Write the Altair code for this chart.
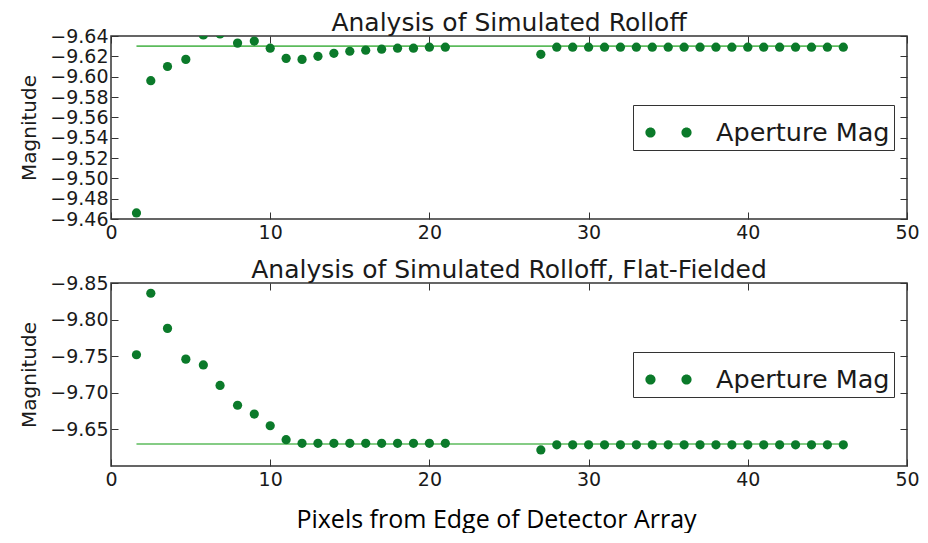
import altair as alt
import pandas as pd

# ---- data ----
x_pix = [1.6, 2.5, 3.55, 4.7, 5.8, 6.85, 7.95, 9.0, 10, 11, 12, 13, 14, 15, 16, 17, 18, 19, 20, 21,
         27, 28, 29, 30, 31, 32, 33, 34, 35, 36, 37, 38, 39, 40, 41, 42, 43, 44, 45, 46]

mag_raw = [-9.466, -9.596, -9.610, -9.617, -9.641, -9.642, -9.633, -9.635, -9.628, -9.618,
           -9.617, -9.620, -9.623, -9.625, -9.626, -9.627, -9.628, -9.628, -9.629, -9.629,
           -9.622, -9.629, -9.629, -9.629, -9.629, -9.629, -9.629, -9.629, -9.629, -9.629,
           -9.629, -9.629, -9.629, -9.629, -9.629, -9.629, -9.629, -9.629, -9.629, -9.629]

mag_flat = [-9.752, -9.836, -9.788, -9.746, -9.738, -9.710, -9.683, -9.671, -9.655, -9.636,
            -9.631, -9.631, -9.631, -9.631, -9.631, -9.631, -9.631, -9.631, -9.631, -9.631,
            -9.622, -9.629, -9.629, -9.629, -9.629, -9.629, -9.629, -9.629, -9.629, -9.629,
            -9.629, -9.629, -9.629, -9.629, -9.629, -9.629, -9.629, -9.629, -9.629, -9.629]

true_mag = -9.63
series_name = "Aperture Mag"

x_ticks = [0, 10, 20, 30, 40, 50]
y_ticks_raw = [-9.64, -9.62, -9.60, -9.58, -9.56, -9.54, -9.52, -9.50, -9.48, -9.46]
y_ticks_flat = [-9.85, -9.80, -9.75, -9.70, -9.65]

titles = ["Analysis of Simulated Rolloff", "Analysis of Simulated Rolloff, Flat-Fielded"]

PT = "#0b7a2a"
LINE = "#5cbb5c"
FONT = "DejaVu Sans"
TXT = "#1a1a1a"

two_dots = ("M -1 0 A 0.22 0.22 0 1 0 -0.56 0 A 0.22 0.22 0 1 0 -1 0 Z "
            "M 0.56 0 A 0.22 0.22 0 1 0 1 0 A 0.22 0.22 0 1 0 0.56 0 Z")

IN_TICK = {"expr": "-7"}


def panel(mags, ydomain, yticks, title, xtitle):
    df = pd.DataFrame({"x": x_pix, "mag": mags, "ref": [true_mag] * len(x_pix),
                       "series": [series_name] * len(x_pix)})
    xs = alt.Scale(domain=[0, 50], nice=False, zero=False)
    ys = alt.Scale(domain=ydomain, reverse=True, nice=False, zero=False)
    line = alt.Chart(df).mark_line(color=LINE, strokeWidth=1.6).encode(
        x=alt.X("x:Q", scale=xs, axis=alt.Axis(
            orient="bottom", values=x_ticks, format="d", title=xtitle,
            tickSize=IN_TICK, labelPadding=11, labelFlush=False, domain=False, grid=False,
            titleFont="Open Sans", titleFontSize=25, titleColor="black", titleFontWeight="normal",
            titlePadding=18, titleX=385)),
        y=alt.Y("ref:Q", scale=ys, axis=alt.Axis(
            orient="left", values=yticks, format=".2f", title="Magnitude",
            tickSize=IN_TICK, labelPadding=10, domain=False, grid=False,
            titleFont=FONT, titleFontSize=20, titleColor=TXT, titleFontWeight="normal",
            titlePadding=10)),
    )
    pts = alt.Chart(df).mark_point(filled=True, size=85, opacity=1, clip=True).encode(
        x=alt.X("x:Q", scale=xs, axis=alt.Axis(
            orient="top", values=x_ticks, labels=False, title=None, tickSize=IN_TICK,
            domain=False, grid=False, minExtent=0, maxExtent=0)),
        y=alt.Y("mag:Q", scale=ys, axis=alt.Axis(
            orient="right", values=yticks, labels=False, title=None, tickSize=IN_TICK,
            domain=False, grid=False, minExtent=0, maxExtent=0)),
        color=alt.Color("series:N", scale=alt.Scale(range=[PT]), legend=alt.Legend(
            title=None, orient="none", legendX=522, legendY=69,
            symbolType=two_dots, symbolSize=2134, symbolStrokeWidth=0, symbolOffset=8,
            labelFont=FONT, labelFontSize=25.5, labelColor=TXT, labelOffset=24, labelLimit=400,
            strokeColor="#333333", fillColor="white", padding=4, cornerRadius=0)),
    )
    return alt.layer(line, pts).resolve_axis(x="independent", y="independent").properties(
        width=796, height=183,
        title=alt.TitleParams(title, font=FONT, fontSize=25, fontWeight="normal",
                              color=TXT, anchor="middle", offset=-9))


top = panel(mag_raw, [-9.64, -9.46], y_ticks_raw, titles[0], None)
bottom = panel(mag_flat, [-9.85, -9.60], y_ticks_flat, titles[1], "Pixels from Edge of Detector Array")

chart = alt.vconcat(top, bottom, spacing=14).resolve_scale(color="independent").configure_view(
    stroke="#333333", strokeWidth=1.5
).configure_axis(
    labelFont=FONT, labelFontSize=19, labelColor=TXT, tickColor="#333333", tickWidth=1
).properties(padding={"left": 11, "top": 2, "right": 0, "bottom": 0}, background="white")

chart.save("out.html", embed_options={"renderer": "svg", "actions": False})
